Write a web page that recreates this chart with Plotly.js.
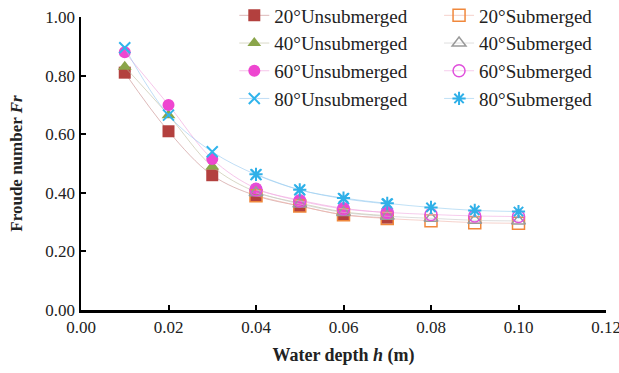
<!DOCTYPE html>
<html>
<head>
<meta charset="utf-8">
<script src="https://cdn.plot.ly/plotly-3.0.1.min.js"></script>
<style>html,body{margin:0;padding:0;background:#fff;}#chart{width:619px;height:373px;}</style>
</head>
<body>
<div id="chart"></div>
<script>
// Data
var xUnsub = [0.01, 0.02, 0.03, 0.04, 0.05, 0.06, 0.07];
var xSub   = [0.04, 0.05, 0.06, 0.07, 0.08, 0.09, 0.10];

var fr20Unsub = [0.81, 0.61, 0.46, 0.39, 0.355, 0.325, 0.315];
var fr40Unsub = [0.83, 0.665, 0.49, 0.403, 0.365, 0.335, 0.322];
var fr60Unsub = [0.88, 0.70, 0.515, 0.415, 0.375, 0.347, 0.332];
var fr80Unsub = [0.895, 0.665, 0.54, 0.462, 0.41, 0.38, 0.362];

var fr20Sub = [0.39, 0.355, 0.325, 0.312, 0.305, 0.298, 0.296];
var fr40Sub = [0.40, 0.362, 0.333, 0.32, 0.313, 0.306, 0.304];
var fr60Sub = [0.41, 0.372, 0.345, 0.333, 0.326, 0.321, 0.319];
var fr80Sub = [0.463, 0.41, 0.382, 0.364, 0.35, 0.34, 0.336];

var xTicks = [0, 0.02, 0.04, 0.06, 0.08, 0.10, 0.12];
var xTickText = ['0.00', '0.02', '0.04', '0.06', '0.08', '0.10', '0.12'];

var namesUnsub = ['20°Unsubmerged', '40°Unsubmerged', '60°Unsubmerged', '80°Unsubmerged'];
var namesSub   = ['20°Submerged', '40°Submerged', '60°Submerged', '80°Submerged'];

var font = 'Liberation Serif, Times New Roman, serif';

function tr(x, y, name, sym, mcol, lcol, open, legend) {
  var marker = {symbol: sym, size: 12, color: open ? 'rgba(0,0,0,0)' : mcol,
                line: {color: mcol, width: open ? 1.5 : 0}};
  if (sym === 'x-thin' || sym === 'asterisk') {
    marker = {symbol: sym, size: 11, color: mcol, line: {color: mcol, width: 2}};
  }
  return {x: x, y: y, name: name, type: 'scatter', mode: 'lines+markers',
          line: {shape: 'spline', smoothing: 1, color: lcol, width: 1},
          marker: marker, legend: legend};
}

var data = [
  tr(xUnsub, fr20Unsub, namesUnsub[0], 'square', '#B3403E', 'rgba(200,140,140,0.6)', false, 'legend'),
  tr(xUnsub, fr40Unsub, namesUnsub[1], 'triangle-up', '#8AA54A', 'rgba(190,190,160,0.6)', false, 'legend'),
  tr(xUnsub, fr60Unsub, namesUnsub[2], 'circle', '#EE46D0', 'rgba(240,160,220,0.6)', false, 'legend'),
  tr(xUnsub, fr80Unsub, namesUnsub[3], 'x-thin', '#30B4EC', 'rgba(150,200,240,0.6)', false, 'legend'),
  tr(xSub, fr20Sub, namesSub[0], 'square', '#F0883C', 'rgba(240,180,170,0.6)', true, 'legend2'),
  tr(xSub, fr40Sub, namesSub[1], 'triangle-up', '#9A9A9A', 'rgba(200,200,200,0.6)', true, 'legend2'),
  tr(xSub, fr60Sub, namesSub[2], 'circle', '#E050DC', 'rgba(240,170,225,0.6)', true, 'legend2'),
  tr(xSub, fr80Sub, namesSub[3], 'asterisk', '#30B0E8', 'rgba(150,205,240,0.6)', false, 'legend2')
];

var axisCommon = {
  showgrid: false, zeroline: false, showline: true, linecolor: '#000', linewidth: 2.5,
  ticks: 'inside', ticklen: 5, tickwidth: 2, tickcolor: '#000',
  tickfont: {family: font, size: 17, color: '#222'}, tickformat: '.2f',
  ticklabeloverflow: 'allow'
};

var layout = {
  width: 619, height: 373,
  margin: {l: 81, r: 13, t: 17, b: 63, autoexpand: false},
  paper_bgcolor: '#fff', plot_bgcolor: '#fff',
  font: {family: font, color: '#222'},
  xaxis: Object.assign({}, axisCommon, {range: [0, 0.12], tickmode: 'array', tickvals: xTicks, ticktext: xTickText,
    title: {text: 'Water depth <i>h</i> (m)', font: {family: font, size: 18, weight: 'bold', color: '#222'}, standoff: 13}}),
  yaxis: Object.assign({}, axisCommon, {range: [0, 1], dtick: 0.2, tick0: 0,
    title: {text: 'Froude number <i>Fr</i>', font: {family: font, size: 17, weight: 'bold', color: '#222'}, standoff: 19}}),
  legend: {x: 0.292, y: 1.07, xanchor: 'left', yanchor: 'top', bgcolor: 'rgba(0,0,0,0)',
           font: {family: font, size: 19, color: '#222'}},
  legend2: {x: 0.682, y: 1.07, xanchor: 'left', yanchor: 'top', bgcolor: 'rgba(0,0,0,0)',
           font: {family: font, size: 19, color: '#222'}},
  showlegend: true
};

Plotly.newPlot('chart', data, layout, {displayModeBar: false, staticPlot: true});
</script>
</body>
</html>
